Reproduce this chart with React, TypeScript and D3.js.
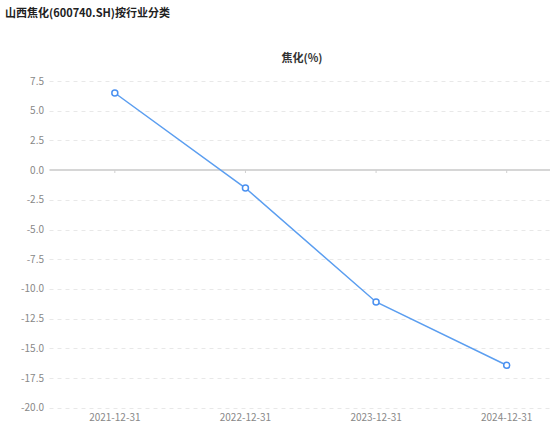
import React, { useEffect, useRef } from 'react';
import * as d3 from 'd3';

const categories = ['2021-12-31', '2022-12-31', '2023-12-31', '2024-12-31'];
const values = [6.49, -1.51, -11.1, -16.43];
const yTicks = [7.5, 5.0, 2.5, 0.0, -2.5, -5.0, -7.5, -10.0, -12.5, -15.0, -17.5, -20.0];

const title = '山西焦化(600740.SH)按行业分类';
const seriesName = '焦化(%)';

const W = 550;
const H = 429;

const App: React.FC = () => {
  const svgRef = useRef<SVGSVGElement>(null);

  useEffect(() => {
    if (!svgRef.current) return;
    const svg = d3.select(svgRef.current);
    svg.selectAll('*').remove();

    const font = '"Noto Sans CJK SC", "Noto Sans", sans-serif';
    const left = 49.5;
    const right = 572; // plot runs past the visible edge
    const top = 81;
    const bottom = 407.7;

    const x = d3.scaleBand<string>().domain(categories).range([left, right]);
    const y = d3.scaleLinear().domain([-20, 7.5]).range([bottom, top]);

    svg.style('font-family', font).style('background', '#fff');

    // title
    svg.append('text')
      .attr('x', 5)
      .attr('y', 17)
      .style('font-size', '11px')
      .style('font-weight', 'bold')
      .style('fill', '#222')
      .text(title);

    svg.append('text')
      .attr('x', 302)
      .attr('y', 62)
      .attr('text-anchor', 'middle')
      .style('font-size', '11px')
      .style('font-weight', 'bold')
      .style('fill', '#333')
      .text(seriesName);

    // grid + y labels
    const grid = svg.append('g');
    yTicks.forEach(t => {
      if (t !== 0) {
        grid.append('line')
          .attr('x1', left).attr('x2', W)
          .attr('y1', Math.round(y(t)) + 0.5).attr('y2', Math.round(y(t)) + 0.5)
          .attr('stroke', '#e8e8e8')
          .attr('stroke-dasharray', '4,4');
      }
      grid.append('text')
        .attr('x', 44)
        .attr('y', y(t))
        .attr('dy', '0.35em')
        .attr('text-anchor', 'end')
        .style('font-size', '10px')
        .style('fill', '#888')
        .text(t.toFixed(1));
    });

    // zero axis line with ticks
    const y0 = Math.round(y(0));
    svg.append('line')
      .attr('x1', left).attr('x2', W)
      .attr('y1', y0).attr('y2', y0)
      .attr('stroke', '#c8c8c8')
      .attr('stroke-width', 1.5);
    categories.forEach(c => {
      const cx = (x(c) ?? 0) + x.bandwidth() / 2;
      svg.append('line')
        .attr('x1', cx).attr('x2', cx)
        .attr('y1', y0).attr('y2', y0 + 3)
        .attr('stroke', '#d0d0d0');
      svg.append('text')
        .attr('x', cx)
        .attr('y', 421)
        .attr('text-anchor', 'middle')
        .style('font-size', '10px')
        .style('fill', '#888')
        .text(c);
    });

    // line
    const pts: [number, number][] = categories.map((c, i) => [
      (x(c) ?? 0) + x.bandwidth() / 2,
      y(values[i]),
    ]);
    svg.append('path')
      .attr('d', d3.line()(pts) ?? '')
      .attr('fill', 'none')
      .attr('stroke', '#5b9ef0')
      .attr('stroke-width', 1.5);

    svg.selectAll('circle.pt')
      .data(pts)
      .enter()
      .append('circle')
      .attr('class', 'pt')
      .attr('cx', d => d[0])
      .attr('cy', d => d[1])
      .attr('r', 3)
      .attr('fill', '#fff')
      .attr('stroke', '#4a90f0')
      .attr('stroke-width', 1.5);
  }, []);

  return (
    <svg
      ref={svgRef}
      width={W}
      height={H}
      style={{ display: 'block', position: 'absolute', left: 0, top: 0 }}
    />
  );
};

export default App;
